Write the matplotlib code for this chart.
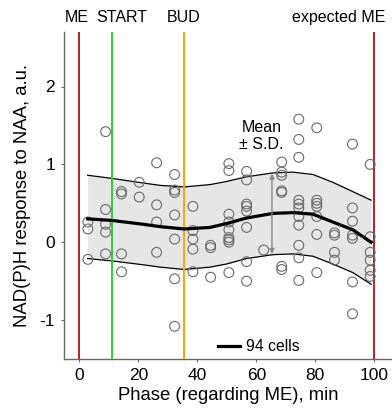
import matplotlib
matplotlib.use("Agg")
import matplotlib.pyplot as plt

plt.rcParams['font.family'] = ['Liberation Sans', 'DejaVu Sans']
plt.rcParams['axes.unicode_minus'] = False

# ---- data ----
# mean curve and S.D. band (phase, min)
band_phase = [2.8, 11.0, 21.7, 27.4, 35.5, 44.3, 49.9, 56.6, 65.6, 72.4, 79.2, 85.9, 92.7, 98.9]
band_mean  = [0.30, 0.28, 0.23, 0.20, 0.17, 0.19, 0.24, 0.31, 0.37, 0.38, 0.36, 0.26, 0.16, 0.00]
band_upper = [0.86, 0.82, 0.76, 0.73, 0.71, 0.74, 0.78, 0.84, 0.89, 0.90, 0.87, 0.77, 0.65, 0.54]
band_lower = [-0.21, -0.24, -0.29, -0.32, -0.35, -0.32, -0.28, -0.21, -0.16, -0.15, -0.18, -0.28, -0.39, -0.54]

# individual cells
cell_phase = ([2.9]*3 + [8.9]*5 + [14.3]*4 + [20.3]*2 + [26.2]*4 + [32.3]*7 +
              [38.5]*5 + [44.5]*3 + [50.7]*9 + [56.7]*8 + [62.5]*1 + [68.6]*7 +
              [74.4]*11 + [80.5]*7 + [86.5]*4 + [92.6]*7 + [98.6]*6)
cell_value = ([0.26, 0.17, -0.22] +
              [1.42, 0.42, 0.23, 0.13, -0.15] +
              [0.65, 0.62, -0.15, -0.38] +
              [0.77, 0.58] +
              [1.02, 0.48, 0.26, -0.13] +
              [0.87, 0.67, 0.64, 0.35, 0.04, -0.47, -1.08] +
              [0.46, 0.15, 0.04, -0.09, -0.38] +
              [-0.04, -0.07, -0.45] +
              [1.01, 0.92, 0.36, 0.26, 0.16, 0.06, 0.03, 0.00, -0.39] +
              [0.91, 0.80, 0.49, 0.46, 0.40, 0.19, -0.25, -0.50] +
              [-0.10] +
              [1.03, 0.90, 0.86, 0.66, 0.64, -0.31, -0.35] +
              [1.58, 1.32, 1.09, 0.54, 0.49, 0.44, 0.33, 0.22, -0.04, -0.20, -0.49] +
              [1.47, 0.54, 0.50, 0.46, 0.33, 0.10, -0.39] +
              [0.12, 0.09, -0.13, -0.23] +
              [1.26, 0.44, 0.27, 0.09, 0.05, -0.51, -0.92] +
              [1.00, 0.07, -0.13, -0.23, -0.36, -0.44])

event_phase = [0, 11.0, 35.5, 100]
event_label = ["ME", "START", "BUD", "expected ME"]
event_label_x = [-1.0, 14.4, 35.2, 87.8]
event_color = ["#b22222", "#33cc33", "#ffa500", "#b22222"]

n_cells = 94
xticks = [0, 20, 40, 60, 80, 100]
yticks = [-1, 0, 1, 2]

# ---- figure ----
fig = plt.figure(figsize=(3.92, 4.17), dpi=100)
ax = fig.add_axes([64/392, 58/417, 328/392, 327/417])

ax.fill_between(band_phase, band_lower, band_upper, color="#e6e6e6", lw=0, zorder=1)
ax.plot(band_phase, band_upper, color="black", lw=0.9, zorder=2)
ax.plot(band_phase, band_lower, color="black", lw=0.9, zorder=2)

for p, c in zip(event_phase, event_color):
    ax.axvline(p, color=c, lw=1.4, zorder=3)

ax.scatter(cell_phase, cell_value, s=50, facecolors="none", edgecolors="#6a6a6a",
           linewidths=0.8, zorder=4)

ax.plot(band_phase, band_mean, color="black", lw=2.3, zorder=5, label=f"{n_cells} cells")

# arrow for S.D.
ax.annotate("", xy=(65.3, band_lower[8] + 0.01), xytext=(65.3, band_upper[8] - 0.01),
            arrowprops=dict(arrowstyle="<|-|>", color="#888888", lw=1.0,
                            mutation_scale=7, shrinkA=0, shrinkB=0), zorder=6)
ax.text(61.7, 1.36, "Mean\n± S.D.", ha="center", va="center", fontsize=11.5,
        linespacing=1.15)

for lx, lab in zip(event_label_x, event_label):
    ax.text(lx, 2.88, lab, ha="center", va="center", fontsize=11.5, clip_on=False)

ax.set_xlim(-5.2, 106)
ax.set_ylim(-1.5, 2.7)
ax.set_xticks(xticks)
ax.set_yticks(yticks)
ax.tick_params(labelsize=12.5, length=2.5, width=0.8, color="#666666", pad=4)
for s in ["top", "right"]:
    ax.spines[s].set_visible(False)
for s in ["left", "bottom"]:
    ax.spines[s].set_color("#666666")
    ax.spines[s].set_linewidth(1.0)

ax.set_xlabel("Phase (regarding ME), min", fontsize=13.3, labelpad=3)
ax.set_ylabel("NAD(P)H response to NAA, a.u.", fontsize=13.3, labelpad=6)

ax.legend(loc="center left", bbox_to_anchor=(0.470, 0.037), frameon=False,
          fontsize=11.3, handlelength=1.4, handletextpad=0.35,
          borderpad=0, borderaxespad=0)

fig.savefig("out.png", dpi=100)
